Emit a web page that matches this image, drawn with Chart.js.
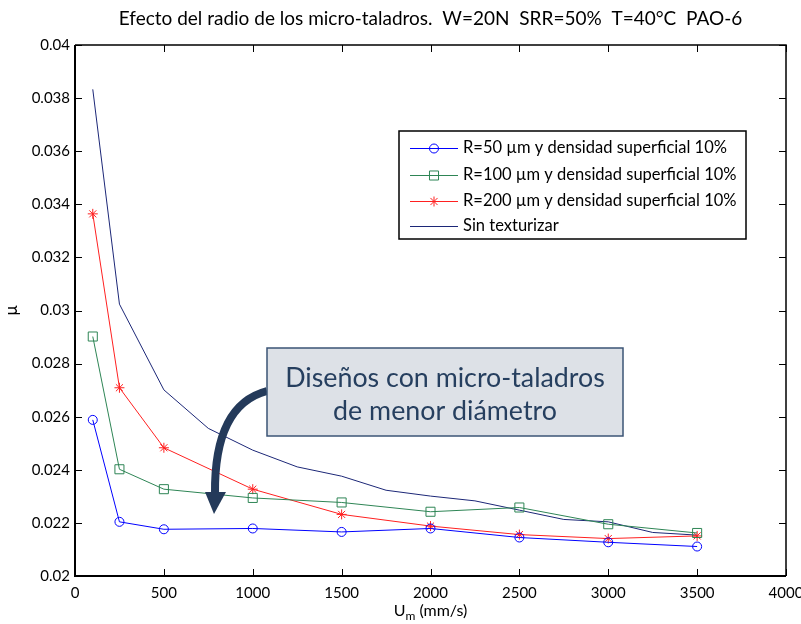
<!DOCTYPE html>
<html>
<head>
<meta charset="utf-8">
<script src="https://cdn.jsdelivr.net/npm/chart.js@4.4.1/dist/chart.umd.min.js"></script>
<style>
html,body{margin:0;padding:0;background:#fff;}
#wrap{width:801px;height:624px;position:relative;}
</style>
</head>
<body>
<div id="wrap"><canvas id="c" width="801" height="624"></canvas></div>
<script>
// ---- data ----
const xMarked = [100, 250, 500, 1000, 1500, 2000, 2500, 3000, 3500];
const muR50  = [0.02588, 0.02204, 0.02176, 0.02179, 0.02166, 0.02179, 0.02145, 0.02127, 0.02111];
const muR100 = [0.02902, 0.02402, 0.02327, 0.02294, 0.02277, 0.02242, 0.02258, 0.02195, 0.02162];
const muR200 = [0.03364, 0.02709, 0.02483, 0.02327, 0.02232, 0.02188, 0.02156, 0.02141, 0.02151];
const xPlain = [100, 250, 500, 750, 1000, 1250, 1500, 1750, 2000, 2250, 2500, 2750, 3000, 3250, 3500];
const muPlain = [0.03833, 0.03024, 0.02701, 0.02556, 0.02474, 0.02411, 0.02376, 0.02323, 0.02301, 0.02283, 0.02248, 0.02213, 0.02204, 0.02164, 0.02154];
const seriesNames = [
  'R=50 \u00B5m y densidad superficial 10%',
  'R=100 \u00B5m y densidad superficial 10%',
  'R=200 \u00B5m y densidad superficial 10%',
  'Sin texturizar'
];
const xTicks = [0, 500, 1000, 1500, 2000, 2500, 3000, 3500, 4000];
const yTicks = [0.02, 0.022, 0.024, 0.026, 0.028, 0.03, 0.032, 0.034, 0.036, 0.038, 0.04];
const yTickLabels = ['0.02','0.022','0.024','0.026','0.028','0.03','0.032','0.034','0.036','0.038','0.04'];
const titleText = 'Efecto del radio de los micro-taladros.  W=20N  SRR=50%  T=40\u00B0C  PAO-6';
const annotationLines = ['Dise\u00F1os con micro-taladros', 'de menor di\u00E1metro'];

const pts = (xs, ys) => xs.map((x, i) => ({x: x, y: ys[i]}));
const FONT = 'Lato';
Chart.defaults.font.family = FONT;
Chart.defaults.color = '#000';

const datasets = [
  {label: seriesNames[0], data: pts(xMarked, muR50), borderColor: '#0000ff', pointStyle: 'circle', pointRadius: 4.5},
  {label: seriesNames[1], data: pts(xMarked, muR100), borderColor: '#2e8555', pointStyle: 'rect', pointRadius: 6.4},
  {label: seriesNames[2], data: pts(xMarked, muR200), borderColor: '#ff2020', pointStyle: 'star', pointRadius: 5},
  {label: seriesNames[3], data: pts(xPlain, muPlain), borderColor: '#1c2777', pointStyle: false, pointRadius: 0}
].map(d => Object.assign({
  borderWidth: 1, pointBorderWidth: 1, pointBackgroundColor: 'rgba(0,0,0,0)',
  pointBorderColor: d.borderColor, tension: 0, fill: false, pointHoverRadius: d.pointRadius
}, d));

const framePlugin = {
  id: 'frame',
  afterDraw(chart) {
    const ctx = chart.ctx, a = chart.chartArea;
    const xs = chart.scales.x, ys = chart.scales.y;
    ctx.save();
    ctx.strokeStyle = '#000';
    ctx.lineWidth = 1;
    // inside ticks
    ctx.beginPath();
    xTicks.forEach(v => {
      const px = Math.round(xs.getPixelForValue(v)) + 0.5;
      ctx.moveTo(px, a.bottom); ctx.lineTo(px, a.bottom - 7);
      ctx.moveTo(px, a.top); ctx.lineTo(px, a.top + 7);
    });
    yTicks.forEach(v => {
      const py = Math.round(ys.getPixelForValue(v)) + 0.5;
      ctx.moveTo(a.left, py); ctx.lineTo(a.left + 7, py);
      ctx.moveTo(a.right, py); ctx.lineTo(a.right - 7, py);
    });
    ctx.stroke();
    // frame
    ctx.lineWidth = 2;
    ctx.beginPath();
    ctx.moveTo(a.left, a.top); ctx.lineTo(a.left, a.bottom); ctx.lineTo(a.right, a.bottom);
    ctx.stroke();
    ctx.lineWidth = 1.5;
    ctx.beginPath();
    ctx.moveTo(a.left, a.top); ctx.lineTo(a.right, a.top); ctx.lineTo(a.right, a.bottom);
    ctx.stroke();

    const cx = (a.left + a.right) / 2;
    // title
    ctx.fillStyle = '#000';
    ctx.font = '19px ' + FONT;
    ctx.textAlign = 'center';
    ctx.textBaseline = 'middle';
    ctx.fillText(titleText, cx, 19);

    // axis titles
    ctx.textBaseline = 'alphabetic';
    ctx.font = '16px ' + FONT;
    const wU = ctx.measureText('U').width;
    ctx.font = '12px ' + FONT;
    const wm = ctx.measureText('m').width;
    ctx.font = '16px ' + FONT;
    const rest = ' (mm/s)';
    const wr = ctx.measureText(rest).width;
    let sx = cx - (wU + wm + wr) / 2;
    const by = 616;
    ctx.textAlign = 'left';
    ctx.fillText('U', sx, by);
    ctx.font = '12px ' + FONT;
    ctx.fillText('m', sx + wU, by + 4);
    ctx.font = '16px ' + FONT;
    ctx.fillText(rest, sx + wU + wm, by);
    ctx.save();
    ctx.translate(17, (a.top + a.bottom) / 2);
    ctx.rotate(-Math.PI / 2);
    ctx.textAlign = 'center';
    ctx.font = '17px ' + FONT;
    ctx.fillText('\u03BC', 0, 0);
    ctx.restore();

    // legend
    const lx = 399, ly = 131, lw = 347, lh = 108;
    ctx.fillStyle = '#fff';
    ctx.fillRect(lx, ly, lw, lh);
    ctx.strokeStyle = '#000';
    ctx.lineWidth = 1.5;
    ctx.strokeRect(lx, ly, lw, lh);
    const rowY = [148, 175, 201, 226];
    chart.data.datasets.forEach((d, i) => {
      const y = rowY[i];
      ctx.strokeStyle = d.borderColor;
      ctx.lineWidth = 1;
      ctx.beginPath(); ctx.moveTo(410, y + 0.5); ctx.lineTo(458, y + 0.5); ctx.stroke();
      if (d.pointStyle && Chart.helpers && Chart.helpers.drawPoint) {
        ctx.strokeStyle = d.borderColor;
        ctx.fillStyle = 'rgba(0,0,0,0)';
        Chart.helpers.drawPoint(ctx, {pointStyle: d.pointStyle, radius: d.pointRadius, rotation: 0, borderWidth: 1}, 434, y + 0.5);
      }
      ctx.fillStyle = '#000';
      ctx.font = '16.5px ' + FONT;
      ctx.textAlign = 'left';
      ctx.textBaseline = 'middle';
      ctx.fillText(d.label, 463, y);
    });

    // annotation arrow
    ctx.strokeStyle = '#243a5a';
    ctx.fillStyle = '#243a5a';
    ctx.lineWidth = 8;
    ctx.lineCap = 'butt';
    ctx.beginPath();
    ctx.moveTo(267, 391);
    ctx.quadraticCurveTo(214, 405, 215, 494);
    ctx.stroke();
    ctx.beginPath();
    ctx.moveTo(205, 492); ctx.lineTo(226, 492); ctx.lineTo(214, 514); ctx.closePath();
    ctx.fill();

    // annotation box
    const bx = 267, byy = 348, bw = 356, bh = 88;
    ctx.fillStyle = '#dde1e7';
    ctx.fillRect(bx, byy, bw, bh);
    ctx.strokeStyle = '#3b5476';
    ctx.lineWidth = 1.5;
    ctx.strokeRect(bx, byy, bw, bh);
    ctx.fillStyle = '#263f5f';
    ctx.font = '26.8px ' + FONT;
    ctx.textAlign = 'center';
    ctx.textBaseline = 'middle';
    ctx.fillText(annotationLines[0], bx + bw / 2, 378);
    ctx.fillText(annotationLines[1], bx + bw / 2, 411);
    ctx.restore();
  }
};

new Chart(document.getElementById('c'), {
  type: 'line',
  data: {datasets: datasets},
  options: {
    responsive: false,
    animation: false,
    devicePixelRatio: 1,
    layout: {padding: {left: 0, right: 15, top: 45, bottom: 0}},
    plugins: {
      legend: {display: false},
      tooltip: {enabled: false},
      title: {display: false}
    },
    scales: {
      x: {
        type: 'linear', min: 0, max: 4000,
        afterBuildTicks: s => { s.ticks = xTicks.map(v => ({value: v})); },
        afterFit: s => { s.height = 48; s.paddingLeft = 0; s.paddingRight = 0; },
        grid: {display: false, drawTicks: false},
        border: {display: false},
        ticks: {padding: 8, font: {size: 15}, maxRotation: 0, autoSkip: false, callback: v => String(v)}
      },
      y: {
        type: 'linear', min: 0.02, max: 0.04,
        afterBuildTicks: s => { s.ticks = yTicks.map(v => ({value: v})); },
        afterFit: s => { s.width = 75; s.paddingTop = 0; s.paddingBottom = 0; },
        grid: {display: false, drawTicks: false},
        border: {display: false},
        ticks: {padding: 5, font: {size: 15}, autoSkip: false, callback: (v, i) => yTickLabels[i]}
      }
    }
  },
  plugins: [framePlugin]
});
</script>
</body>
</html>
